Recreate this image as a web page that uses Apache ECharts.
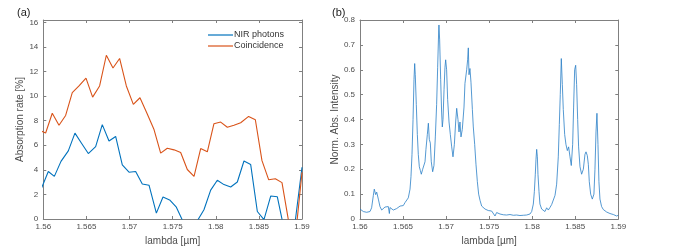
<!DOCTYPE html>
<html><head><meta charset="utf-8">
<script src="https://cdn.jsdelivr.net/npm/echarts@6/dist/echarts.min.js"></script>
<style>html,body{margin:0;padding:0;background:#fff}#c{width:698px;height:251px}</style>
</head><body><div id="c"></div>
<script>
// ---- Data ----
const xTicksA = [1.56, 1.565, 1.57, 1.575, 1.58, 1.585, 1.59];
const nirX = [1.55981,1.56058,1.56128,1.56205,1.56290,1.56367,1.56445,1.56522,1.56607,1.56684,1.56762,1.56839,1.56916,1.56994,1.57071,1.57148,1.57226,1.57311,1.57388,1.57465,1.57543,1.57620,1.57697,1.57786,1.57863,1.57941,1.58018,1.58095,1.58173,1.58250,1.58327,1.58405,1.58482,1.58559,1.58637,1.58714,1.58791,1.58861,1.58923,1.59000];
const nirY = [2.55,3.87,3.47,4.69,5.55,6.99,6.15,5.33,5.89,7.68,6.35,6.72,4.40,3.81,3.87,2.85,2.75,0.48,1.79,1.55,0.96,-0.2,-1.5,-0.15,0.75,2.35,3.15,2.80,2.61,3.01,4.72,4.43,0.61,-0.05,1.87,1.81,-0.78,-2.0,-0.1,4.21];
const coinX = [1.55961,1.56027,1.56104,1.56182,1.56259,1.56336,1.56414,1.56495,1.56572,1.56653,1.56731,1.56808,1.56885,1.56963,1.57044,1.57121,1.57198,1.57284,1.57361,1.57438,1.57516,1.57593,1.57670,1.57748,1.57825,1.57902,1.57979,1.58057,1.58134,1.58211,1.58289,1.58381,1.58459,1.58536,1.58613,1.58691,1.58768,1.58845,1.58923,1.59000];
const coinY = [7.2,7.0,8.61,7.63,8.43,10.29,10.83,11.47,9.92,10.83,13.33,12.29,13.07,10.83,9.33,9.87,8.67,7.28,5.36,5.76,5.63,5.41,4.03,3.47,5.73,5.47,7.76,7.89,7.47,7.63,7.84,8.35,8.08,4.75,3.20,3.28,2.96,-0.2,-1.5,3.8];
const specX = [1.56000,1.56019,1.56039,1.56058,1.56077,1.56097,1.56116,1.56135,1.56155,1.56166,1.56182,1.56194,1.56213,1.56232,1.56252,1.56271,1.56290,1.56310,1.56329,1.56341,1.56348,1.56368,1.56387,1.56406,1.56426,1.56445,1.56465,1.56484,1.56503,1.56523,1.56542,1.56561,1.56581,1.56592,1.56604,1.56616,1.56627,1.56635,1.56642,1.56654,1.56666,1.56677,1.56689,1.56701,1.56712,1.56728,1.56743,1.56755,1.56766,1.56782,1.56794,1.56805,1.56817,1.56828,1.56844,1.56859,1.56875,1.56890,1.56902,1.56914,1.56917,1.56925,1.56937,1.56948,1.56956,1.56964,1.56976,1.56987,1.56995,1.57006,1.57018,1.57034,1.57049,1.57065,1.57080,1.57096,1.57111,1.57123,1.57138,1.57150,1.57161,1.57173,1.57188,1.57208,1.57219,1.57239,1.57250,1.57258,1.57266,1.57277,1.57289,1.57305,1.57316,1.57332,1.57347,1.57363,1.57378,1.57394,1.57413,1.57432,1.57452,1.57471,1.57490,1.57510,1.57529,1.57548,1.57568,1.57587,1.57606,1.57626,1.57645,1.57665,1.57703,1.57742,1.57781,1.57819,1.57858,1.57897,1.57935,1.57974,1.57994,1.58013,1.58025,1.58036,1.58044,1.58052,1.58060,1.58067,1.58079,1.58090,1.58110,1.58129,1.58148,1.58168,1.58187,1.58206,1.58226,1.58245,1.58265,1.58284,1.58303,1.58315,1.58326,1.58338,1.58350,1.58361,1.58377,1.58392,1.58408,1.58423,1.58439,1.58454,1.58470,1.58481,1.58493,1.58505,1.58516,1.58528,1.58539,1.58555,1.58574,1.58594,1.58613,1.58625,1.58640,1.58652,1.58663,1.58679,1.58698,1.58717,1.58729,1.58741,1.58752,1.58764,1.58775,1.58787,1.58806,1.58826,1.58845,1.58865,1.58903,1.58942,1.58981,1.59000];
const specY = [0.040,0.032,0.030,0.034,0.027,0.031,0.030,0.045,0.095,0.120,0.098,0.108,0.080,0.050,0.036,0.038,0.048,0.055,0.050,0.022,0.046,0.038,0.036,0.040,0.042,0.048,0.052,0.058,0.054,0.066,0.074,0.085,0.120,0.170,0.260,0.400,0.560,0.625,0.580,0.460,0.340,0.260,0.210,0.195,0.180,0.200,0.205,0.230,0.280,0.340,0.385,0.320,0.305,0.230,0.190,0.215,0.330,0.460,0.610,0.760,0.780,0.720,0.560,0.430,0.370,0.400,0.520,0.610,0.640,0.600,0.480,0.390,0.340,0.290,0.250,0.300,0.390,0.445,0.400,0.350,0.390,0.330,0.360,0.450,0.545,0.600,0.640,0.688,0.580,0.605,0.550,0.440,0.370,0.300,0.220,0.150,0.100,0.075,0.052,0.046,0.040,0.036,0.034,0.030,0.032,0.028,0.012,0.026,0.022,0.020,0.018,0.017,0.016,0.018,0.015,0.016,0.014,0.015,0.016,0.020,0.030,0.060,0.110,0.180,0.240,0.280,0.250,0.180,0.110,0.060,0.040,0.034,0.030,0.045,0.036,0.046,0.058,0.066,0.095,0.140,0.250,0.380,0.500,0.645,0.540,0.440,0.340,0.300,0.275,0.290,0.250,0.215,0.300,0.450,0.600,0.618,0.540,0.400,0.290,0.210,0.180,0.200,0.260,0.270,0.255,0.220,0.150,0.100,0.080,0.100,0.200,0.350,0.425,0.300,0.150,0.080,0.050,0.038,0.030,0.028,0.022,0.018,0.012,0.015];

const zip = (xs, ys) => xs.map((x, i) => [x, ys[i]]);
const FONT = '"Liberation Sans", Arial, sans-serif';
const AX = '#808080', TXT = '#4d4d4d';

function xAx(grid, name) {
  return [{
    type: 'value', gridIndex: grid, min: 1.56, max: 1.59, interval: 0.005,
    name: name, nameLocation: 'middle', nameGap: 17,
    nameTextStyle: { fontFamily: FONT, fontSize: 10, color: TXT },
    axisLine: { onZero: false, lineStyle: { color: AX, width: 1 } },
    axisTick: { inside: true, length: 3, lineStyle: { color: AX } },
    axisLabel: { fontFamily: FONT, fontSize: 8, color: TXT, margin: 4 },
    splitLine: { show: false }
  }, {
    type: 'value', gridIndex: grid, position: 'top', min: 1.56, max: 1.59, interval: 0.005,
    axisLine: { onZero: false, lineStyle: { color: AX, width: 1 } },
    axisTick: { inside: true, length: 3, lineStyle: { color: AX } },
    axisLabel: { show: false }, splitLine: { show: false }
  }];
}
function yAx(grid, name, min, max, interval, gap) {
  return [{
    type: 'value', gridIndex: grid, min: min, max: max, interval: interval,
    name: name, nameLocation: 'middle', nameGap: gap,
    nameTextStyle: { fontFamily: FONT, fontSize: 10, color: TXT },
    axisLine: { show: true, onZero: false, lineStyle: { color: AX, width: 1 } },
    axisTick: { show: true, inside: true, length: 3, lineStyle: { color: AX } },
    axisLabel: { fontFamily: FONT, fontSize: 8, color: TXT, margin: 5, showMaxLabel: max % interval === 0 ? true : false },
    splitLine: { show: false }
  }, {
    type: 'value', gridIndex: grid, position: 'right', min: min, max: max, interval: interval,
    axisLine: { show: true, onZero: false, lineStyle: { color: AX, width: 1 } },
    axisTick: { show: true, inside: true, length: 3, lineStyle: { color: AX } },
    axisLabel: { show: false }, splitLine: { show: false }
  }];
}

const chart = echarts.init(document.getElementById('c'), null, { renderer: 'canvas' });
chart.setOption({
  animation: false,
  backgroundColor: '#fff',
  title: [
    { text: '(a)', left: 12, top: 2, textStyle: { fontFamily: FONT, fontSize: 11, fontWeight: 'normal', color: '#222' } },
    { text: '(b)', left: 327, top: 2, textStyle: { fontFamily: FONT, fontSize: 11, fontWeight: 'normal', color: '#222' } }
  ],
  grid: [
    { left: 43.3, top: 20, width: 258.7, height: 202.7 },
    { left: 360, top: 20, width: 258.3, height: 202.7 }
  ],
  legend: {
    left: 208, top: 30, orient: 'vertical', itemWidth: 25, itemHeight: 1.2, itemGap: 1,
    icon: 'rect', padding: 0,
    textStyle: { fontFamily: FONT, fontSize: 9, color: '#333', padding: [0, 0, 0, -4], lineHeight: 10 },
    data: ['NIR photons', 'Coincidence']
  },
  xAxis: [...xAx(0, 'lambda [µm]'), ...xAx(1, 'lambda [µm]')],
  yAxis: [...yAx(0, 'Absorption rate [%]', 0, 16.2, 2, 16), ...yAx(1, 'Norm. Abs. Intensity', 0, 0.8, 0.1, 16)],
  series: [
    { name: 'NIR photons', type: 'line', xAxisIndex: 0, yAxisIndex: 0, data: zip(nirX, nirY),
      symbol: 'none', clip: true, lineStyle: { color: '#0072BD', width: 1.1 }, itemStyle: { color: '#0072BD' } },
    { name: 'Coincidence', type: 'line', xAxisIndex: 0, yAxisIndex: 0, data: zip(coinX, coinY),
      symbol: 'none', clip: true, lineStyle: { color: '#D95319', width: 1.1 }, itemStyle: { color: '#D95319' } },
    { name: 'Spectrum', type: 'line', xAxisIndex: 2, yAxisIndex: 2, data: zip(specX, specY),
      symbol: 'none', clip: true, lineStyle: { color: '#2a7fc6', width: 0.8 } }
  ]
});
</script></body></html>
